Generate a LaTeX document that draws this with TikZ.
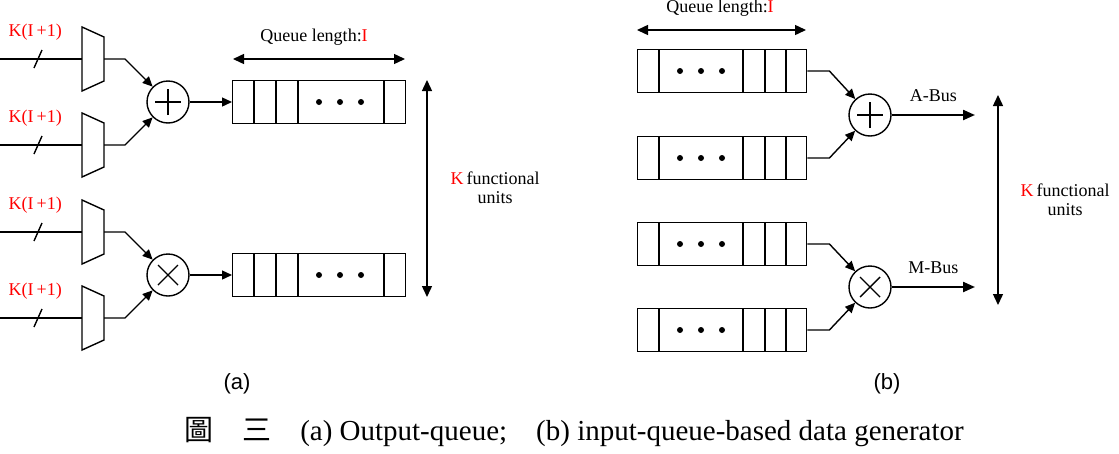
\documentclass[tikz,border=0pt]{standalone}
\usepackage{fontspec}
\setmainfont{Liberation Serif}
\newfontfamily\capfont{Liberation Sans}
\newfontfamily\cjk{Noto Sans CJK TC}
\usetikzlibrary{arrows.meta,positioning}
\tikzset{
	every path/.style={line width=1.4pt},
	lbl/.style={font=\fontsize{18}{19}\selectfont, inner sep=0pt},
	red lbl/.style={lbl, text=red},
	op/.style={circle, draw, minimum size=42pt, inner sep=0pt},
	flow/.style={-{Triangle[length=10pt,width=9pt]}},
	bus/.style={line width=2.2pt, -{Triangle[length=12pt,width=10pt]}},
	span/.style={{Triangle[length=11pt,width=10pt]}-{Triangle[length=11pt,width=10pt]}},
	qbox/.style={draw, minimum height=43pt, inner sep=0pt}
}
% queue: name, left x, centre y, width, list of divider offsets, dots offset
\newcommand{\qrow}[6]{%
	\node[qbox, minimum width=#4pt, anchor=west] (#1) at (#2,#3) {};
	\foreach \d in {#5} \draw (#2+\d,#3-21.5) -- (#2+\d,#3+21.5);
	\foreach \e in {-21,0,21} \fill (#2+#6+\e,#3) circle (3pt);
}
% mux: name of output coordinate, centre y
\newcommand{\mux}[2]{%
	\draw (82,#2-32) -- (104,#2-22) -- (104,#2+22) -- (82,#2+32) -- cycle;
	\coordinate (#1) at (104,#2);
	\coordinate (#1in) at (0,#2);
	\draw (#1in) -- (82,#2);
	\draw (34,#2+9) -- (42,#2-9);
	\node[red lbl, anchor=west] at (8,#2-27) {K(I\,+1)};
}
% operator symbols
\newcommand{\plus}[1]{\draw ([xshift=-13pt]#1.center) -- ([xshift=13pt]#1.center) ([yshift=-13pt]#1.center) -- ([yshift=13pt]#1.center);}
\newcommand{\cross}[1]{\draw ([shift={(-10pt,-10pt)}]#1.center) -- ([shift={(10pt,10pt)}]#1.center) ([shift={(-10pt,10pt)}]#1.center) -- ([shift={(10pt,-10pt)}]#1.center);}
\begin{document}
\begin{tikzpicture}[x=1pt, y=-1pt]
	\useasboundingbox (0,0) rectangle (1119,453);
	% (a) output queue
	\mux{ma}{59}
	\mux{mb}{145}
	\mux{mc}{232}
	\mux{md}{318}
	\node[op] (add) at (168,102) {};
	\node[op] (mul) at (168,275) {};
	\plus{add}
	\cross{mul}
	\draw[flow] (ma) -- ++(21,0) -- (add);
	\draw[flow] (mb) -- ++(21,0) -- (add);
	\draw[flow] (mc) -- ++(21,0) -- (mul);
	\draw[flow] (md) -- ++(21,0) -- (mul);
	\qrow{qa}{232}{102}{173}{22,44,66,152}{108}
	\qrow{qb}{232}{275}{173}{22,44,66,152}{108}
	\draw[flow] (add) -- (qa);
	\draw[flow] (mul) -- (qb);
	\draw[span] (233,59) -- (405,59);
	\node[lbl] (lena) at (314,37) {Queue length:\textcolor{red}{I}};
	\draw[span] (427,80) -- (427,297);
	\node[lbl, align=center] (kfa) at (495,188) {\textcolor{red}{K}\,functional\\units};
	% (b) input queue
	\qrow{q1}{637}{71}{169}{22,106,128,149}{64}
	\qrow{q2}{637}{158}{169}{22,106,128,149}{64}
	\qrow{q3}{637}{244}{169}{22,106,128,149}{64}
	\qrow{q4}{637}{330}{169}{22,106,128,149}{64}
	\node[op] (addb) at (870,115) {};
	\node[op] (mulb) at (870,287) {};
	\plus{addb}
	\cross{mulb}
	\draw[flow] (q1.east) -- ++(22,0) -- (addb);
	\draw[flow] (q2.east) -- ++(22,0) -- (addb);
	\draw[flow] (q3.east) -- ++(22,0) -- (mulb);
	\draw[flow] (q4.east) -- ++(22,0) -- (mulb);
	\coordinate (abus) at (975,115);
	\coordinate (mbus) at (975,287);
	\draw[bus] (addb) -- node[lbl, above=12pt] {A-Bus} (abus);
	\draw[bus] (mulb) -- node[lbl, above=12pt] {M-Bus} (mbus);
	\draw[span] (637,30) -- (806,30);
	\node[lbl] (lenb) at (720,8) {Queue length:\textcolor{red}{I}};
	\draw[span] (998,95) -- (998,305);
	\node[lbl, align=center] (kfb) at (1065,200) {\textcolor{red}{K}\,functional\\units};
	% captions
	\node[font=\capfont\fontsize{22}{23}\selectfont] (capa) at (237,384) {(a)};
	\node[font=\capfont\fontsize{22}{23}\selectfont] (capb) at (887,384) {(b)};
	\node[font=\fontsize{29}{30}\selectfont] (cap) at (574,432) {{\cjk 圖\quad 三}\quad (a) Output-queue;\quad (b) input-queue-based data generator};
\end{tikzpicture}
\end{document}
